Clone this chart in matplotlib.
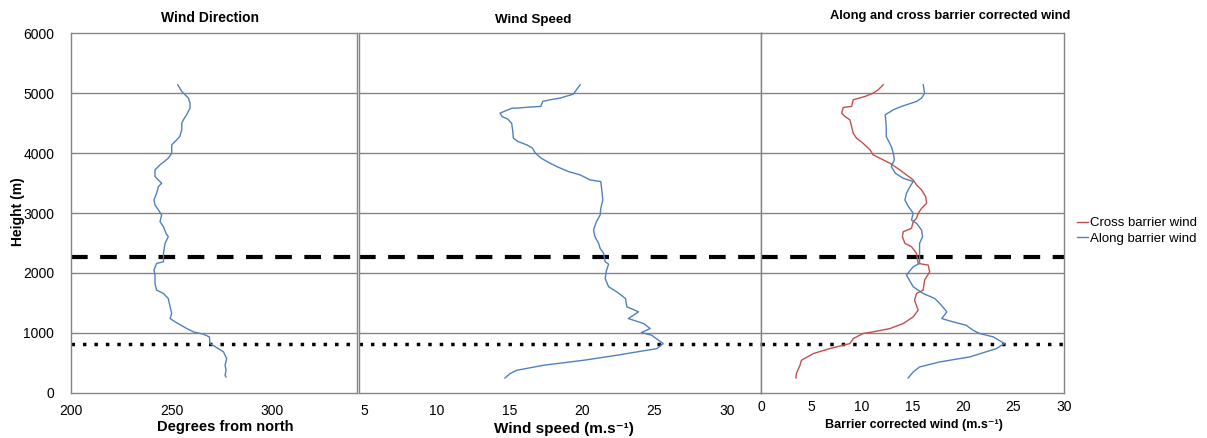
import matplotlib
matplotlib.use("Agg")
import matplotlib.pyplot as plt
import numpy as np

plt.rcParams['font.family'] = ['Liberation Sans', 'DejaVu Sans']

# ---- Data ----
dir_height = [5137, 5026, 4915, 4831, 4748, 4637, 4553, 4497, 4386, 4275, 4191, 4136, 3997, 3913,
              3802, 3718, 3607, 3523, 3496, 3440, 3328, 3217, 3134, 3050, 2967, 2855, 2772, 2661,
              2605, 2494, 2327, 2187, 2160, 2048, 1965, 1826, 1714, 1659, 1575, 1436, 1325, 1241,
              1186, 1074, 1019, 980, 935, 824, 740, 685, 573, 462, 378, 295, 267]
dir_deg = [253.0, 255.0, 258.3, 259.1, 259.1, 257.4, 255.8, 255.0, 255.0, 254.0, 251.7, 250.0, 250.0,
           248.3, 244.2, 241.7, 241.7, 244.2, 245.0, 243.4, 242.5, 241.2, 241.7, 243.4, 245.0, 244.2,
           245.9, 247.2, 248.3, 246.7, 245.9, 245.9, 242.5, 241.2, 241.7, 241.7, 242.5, 245.9, 248.3,
           249.2, 250.0, 249.2, 251.7, 257.5, 260.8, 265.7, 268.7, 269.0, 273.2, 275.7, 277.3, 276.5,
           277.0, 276.5, 277.0]

spd_height = [5137, 5026, 4982, 4915, 4887, 4859, 4776, 4765, 4748, 4748, 4709, 4664, 4609, 4564,
              4497, 4386, 4247, 4191, 4136, 4080, 3997, 3913, 3830, 3774, 3691, 3635, 3551, 3524,
              3384, 3217, 3078, 2967, 2855, 2716, 2605, 2494, 2410, 2327, 2187, 2148, 2048, 1909,
              1770, 1687, 1575, 1436, 1353, 1241, 1158, 1074, 1008, 963, 824, 740, 629, 545, 462,
              378, 323, 250]
spd_ms = [19.88, 19.54, 19.42, 18.5, 17.8, 17.3, 17.17, 16.4, 15.5, 15.2, 14.8, 14.36, 14.5, 14.9,
          15.16, 15.23, 15.28, 15.6, 16.2, 16.6, 16.8, 17.2, 17.8, 18.27, 19.07, 19.88, 20.57, 21.3,
          21.37, 21.44, 21.3, 21.26, 21.0, 20.8, 20.9, 21.15, 21.26, 21.5, 21.6, 21.84, 21.7, 21.6,
          21.84, 22.4, 23.0, 23.1, 23.9, 23.2, 24.25, 24.7, 24.1, 24.8, 25.6, 25.17, 22.4, 20.1,
          17.35, 15.5, 15.05, 14.7]

cross_height = [5137, 5053, 4998, 4942, 4887, 4776, 4759, 4664, 4609, 4553, 4442, 4330, 4247, 4163,
                4052, 3969, 3885, 3830, 3718, 3635, 3551, 3468, 3384, 3273, 3162, 3078, 2995, 2911,
                2855, 2744, 2688, 2605, 2494, 2438, 2327, 2160, 2132, 2020, 1881, 1714, 1659, 1547,
                1380, 1269, 1158, 1074, 1019, 991, 907, 824, 740, 657, 545, 462, 323, 250]
cross_wind = [12.1, 11.6, 11.1, 10.3, 9.13, 8.97, 8.14, 7.98, 8.3, 8.8, 8.97, 9.13, 9.46, 10.1, 10.8,
              11.1, 12.1, 12.76, 13.75, 14.4, 15.07, 15.4, 15.9, 16.3, 16.4, 15.9, 15.56, 15.4, 15.07,
              14.9, 14.08, 14.0, 14.25, 14.9, 15.4, 15.56, 16.55, 16.7, 16.2, 16.05, 15.4, 15.2, 15.56,
              15.07, 14.08, 12.76, 11.1, 10.1, 9.13, 8.8, 6.8, 5.18, 4.0, 3.86, 3.5, 3.46]

along_height = [5137, 4998, 4915, 4859, 4776, 4720, 4637, 4442, 4275, 4108, 3997, 3885, 3774, 3663,
                3579, 3524, 3440, 3328, 3217, 3106, 2995, 2883, 2827, 2716, 2605, 2494, 2327, 2160,
                2104, 1965, 1770, 1659, 1575, 1492, 1353, 1241, 1186, 1130, 1046, 991, 935, 824, 740,
                601, 518, 434, 351, 250]
along_wind = [16.06, 16.2, 15.9, 15.4, 13.9, 13.1, 12.3, 12.4, 12.4, 12.9, 13.1, 13.2, 12.9, 13.3,
              14.08, 15.07, 14.75, 14.4, 14.25, 14.6, 15.07, 14.9, 15.4, 15.9, 16.0, 15.7, 15.7, 15.7,
              15.07, 14.4, 15.07, 16.05, 17.2, 17.7, 18.4, 17.9, 19.0, 20.3, 21.0, 21.66, 23.0, 24.1,
              23.3, 20.67, 17.7, 15.7, 15.07, 14.57]

dashed_level = 2270
dotted_level = 820

titles = ["Wind Direction", "Wind Speed", "Along and cross barrier corrected wind"]
xlabels = ["Degrees from north", "Wind speed (m.s\u207b\u00b9)", "Barrier corrected wind (m.s\u207b\u00b9)"]
yticks = [0, 1000, 2000, 3000, 4000, 5000, 6000]

BLUE = "#4F81BD"
RED = "#C0504D"
GRID = "#858585"

W, H = 1207, 438
fig = plt.figure(figsize=(W / 100, H / 100), dpi=100)

def fx(px):
    return px / W

def fy(py):
    return 1 - py / H

bottom = 1 - 393 / H
height = (393 - 33) / H
ax1 = fig.add_axes([fx(71), bottom, fx(357 - 71), height])
ax2 = fig.add_axes([fx(359), bottom, fx(760.5 - 359), height])
ax3 = fig.add_axes([fx(761), bottom, fx(1064 - 761), height])

for ax in (ax1, ax2, ax3):
    ax.set_ylim(0, 6000)
    ax.set_yticks(yticks)
    for y in yticks[1:-1]:
        ax.axhline(y, color=GRID, lw=1.0, zorder=0)
    for s in ax.spines.values():
        s.set_color(GRID)
        s.set_linewidth(1.0)
    ax.tick_params(length=0, labelsize=10, pad=8)
    ax.axhline(dashed_level, color="black", lw=3, dashes=(4, 3), zorder=1)
    ax.axhline(dotted_level, color="black", lw=2.5, dashes=(1, 2.3), zorder=1)

ax2.tick_params(labelleft=False, pad=8)
ax3.tick_params(labelleft=False, pad=5, labelsize=10)

ax1.plot(dir_deg, dir_height, color=BLUE, lw=1.0, zorder=3)
ax1.set_xlim(200, 342)
ax1.set_xticks([200, 250, 300])
ax1.tick_params(axis='y', pad=12)

ax2.plot(spd_ms, spd_height, color=BLUE, lw=1.0, zorder=3)
ax2.set_xlim(4.65, 32.3)
ax2.set_xticks([5, 10, 15, 20, 25, 30])

ax3.plot(cross_wind, cross_height, color=RED, lw=1.0, zorder=3, label="Cross barrier wind")
ax3.plot(along_wind, along_height, color=BLUE, lw=1.0, zorder=3, label="Along barrier wind")
ax3.set_xlim(0, 30)
ax3.set_xticks([0, 5, 10, 15, 20, 25, 30])

fig.text(fx(18), fy(212), "Height (m)", rotation=90, ha="center", va="center",
         fontsize=10, fontweight="bold")

fig.text(fx(210), fy(18), titles[0], ha="center", va="center", fontsize=10, fontweight="bold")
fig.text(fx(533), fy(20), titles[1], ha="center", va="center", fontsize=9.6, fontweight="bold")
fig.text(fx(950), fy(16), titles[2], ha="center", va="center", fontsize=9.3, fontweight="bold")

fig.text(fx(225), fy(427), xlabels[0], ha="center", va="center", fontsize=10.5, fontweight="bold")
fig.text(fx(564), fy(429), xlabels[1], ha="center", va="center", fontsize=11, fontweight="bold")
fig.text(fx(914), fy(425), xlabels[2], ha="center", va="center", fontsize=9, fontweight="bold")

fig.legend(loc="center left", bbox_to_anchor=(fx(1072), fy(231)), frameon=False,
           fontsize=9.5, handlelength=0.8, handletextpad=0.15, labelspacing=0.25, borderaxespad=0)

fig.savefig("out.png", dpi=100)
